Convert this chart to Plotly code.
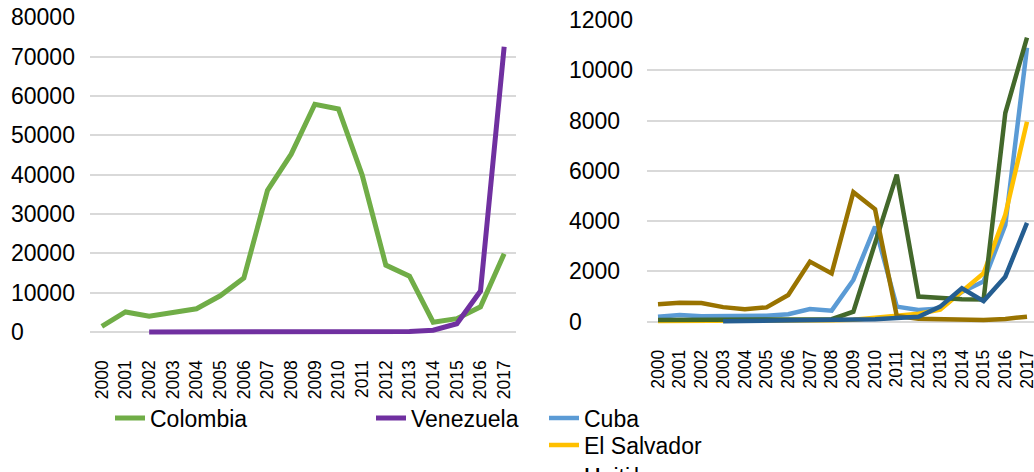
import plotly.graph_objects as go

# ---------------- data ----------------
years = ["2000", "2001", "2002", "2003", "2004", "2005", "2006", "2007", "2008",
         "2009", "2010", "2011", "2012", "2013", "2014", "2015", "2016", "2017"]

colombia = [1400, 5100, 4000, 5000, 5900, 9200, 13700, 36000, 45200, 57900,
            56700, 39900, 17000, 14200, 2500, 3400, 6400, 19900]
venezuela = [None, None, 30, 40, 50, 40, 50, 50, 60, 80,
             90, 100, 80, 150, 450, 2100, 10400, 72500]

cuba = [200, 265, 220, 220, 220, 240, 300, 500, 440, 1660,
        3780, 600, 465, 530, 1180, 1600, 3850, 10900]
el_salvador = [30, 30, 30, 30, 30, 30, 40, 50, 60, 80,
               150, 250, 320, 480, 1190, 1930, 4250, 7950]
haiti = [70, 70, 70, 70, 70, 70, 80, 100, 100, 400,
         3100, 5850, 1000, 930, 890, 880, 8300, 11300]
honduras = [690, 755, 740, 580, 500, 570, 1060, 2390, 1920, 5150,
            4470, 230, 120, 90, 80, 70, 110, 200]
nicaragua = [None, None, None, 20, 30, 20, 30, 30, 40, 60,
             100, 150, 200, 600, 1330, 820, 1790, 3930]

left_ticks = [0, 10000, 20000, 30000, 40000, 50000, 60000, 70000, 80000]
right_ticks = [0, 2000, 4000, 6000, 8000, 10000, 12000]

# ---------------- layout constants (pixels) ----------------
W, H = 1034, 472
FONT = "Liberation Sans, Arial, sans-serif"
GRID = "#d9d9d9"


def px_x(p):
    return p / W


def px_y(p):
    return (H - p) / H


# left plot: 0 at y=332, 80000 at y=17.3, categories from x=90 to 516
L_zero, L_top, L_max = 332.0, 17.3, 80000
L_pad = 2000
L_bottom = L_zero + L_pad * (L_zero - L_top) / L_max
# right plot: 0 at y=321.7, 12000 at y=20, band width 21.706 from x=647.15
R_zero, R_top, R_max = 321.7, 20.0, 12000
R_pad = 300
R_bottom = R_zero + R_pad * (R_zero - R_top) / R_max
R_left, R_band = 647.15, 21.706

fig = go.Figure()

fig.add_trace(go.Scatter(x=years, y=colombia, name="Colombia", mode="lines",
                         line=dict(color="#70ad47", width=5),
                         xaxis="x", yaxis="y", legend="legend"))
fig.add_trace(go.Scatter(x=years, y=venezuela, name="Venezuela", mode="lines",
                         line=dict(color="#7030a0", width=5),
                         xaxis="x", yaxis="y", legend="legend2"))

right_series = [
    ("Cuba", cuba, "#5b9bd5", "legend3"),
    ("El Salvador", el_salvador, "#ffc000", "legend4"),
    ("Haiti", haiti, "#43682b", "legend5"),
    ("Honduras", honduras, "#997300", "legend6"),
    ("Nicaragua", nicaragua, "#255e91", "legend7"),
]
for name, vals, col, lg in right_series:
    fig.add_trace(go.Scatter(x=years, y=vals, name=name, mode="lines",
                             line=dict(color=col, width=4.5),
                             xaxis="x2", yaxis="y2", legend=lg))

axis_font = dict(family=FONT, size=17.5, color="#000000")

fig.update_layout(
    width=W, height=H,
    margin=dict(l=0, r=0, t=0, b=0, autoexpand=False),
    paper_bgcolor="white", plot_bgcolor="white",
    font=dict(family=FONT, color="#000000"),
    showlegend=True,
    xaxis=dict(domain=[px_x(90), px_x(516)], type="category",
               range=[-0.5, 17.5], tickangle=-90, tickfont=axis_font,
               ticklabelstandoff=16,
               showgrid=False, showline=False, zeroline=False, ticks=""),
    yaxis=dict(domain=[px_y(L_bottom), px_y(L_top)], range=[-L_pad, L_max],
               tickvals=left_ticks, showticklabels=False, gridcolor=GRID,
               gridwidth=1.5, zeroline=False, showline=False),
    xaxis2=dict(domain=[px_x(R_left), 1.0], type="category",
                range=[-0.5, -0.5 + (W - R_left) / R_band], tickangle=-90,
                tickfont=axis_font, ticklabelstandoff=16,
                showgrid=False, showline=False,
                zeroline=False, ticks="", anchor="y2"),
    yaxis2=dict(domain=[px_y(R_bottom), px_y(R_top)], range=[-R_pad, R_max],
                tickvals=right_ticks, showticklabels=False, gridcolor=GRID,
                gridwidth=1.5, zeroline=False, showline=False, anchor="x2"),
)

legend_font = dict(family=FONT, size=23, color="#000000")
legend_pos = {
    "legend": (110, 418),
    "legend2": (371, 418),
    "legend3": (544, 418),
    "legend4": (544, 445),
    "legend5": (544, 476),
    "legend6": (544, 476),
    "legend7": (544, 503),
}
for key, (lx, ly) in legend_pos.items():
    fig.update_layout({key: dict(x=px_x(lx), y=px_y(ly), xanchor="left",
                                 yanchor="middle", orientation="v",
                                 bgcolor="rgba(0,0,0,0)", borderwidth=0,
                                 font=legend_font, itemclick=False)})

annotations = []
for v in left_ticks:
    annotations.append(dict(x=px_x(10), xref="paper", y=v, yref="y",
                            text=str(v), showarrow=False, xanchor="left",
                            yanchor="middle", borderpad=0,
                            font=dict(family=FONT, size=23, color="#000000")))
for v in right_ticks:
    annotations.append(dict(x=px_x(568), xref="paper", y=v, yref="y2",
                            text=str(v), showarrow=False, xanchor="left",
                            yanchor="middle", borderpad=0,
                            font=dict(family=FONT, size=23, color="#000000")))
fig.update_layout(annotations=annotations)

fig.write_html("out.html",
               config={"displayModeBar": False},
               post_script="document.body.style.margin='0';"
                           "document.body.style.overflow='hidden';")
